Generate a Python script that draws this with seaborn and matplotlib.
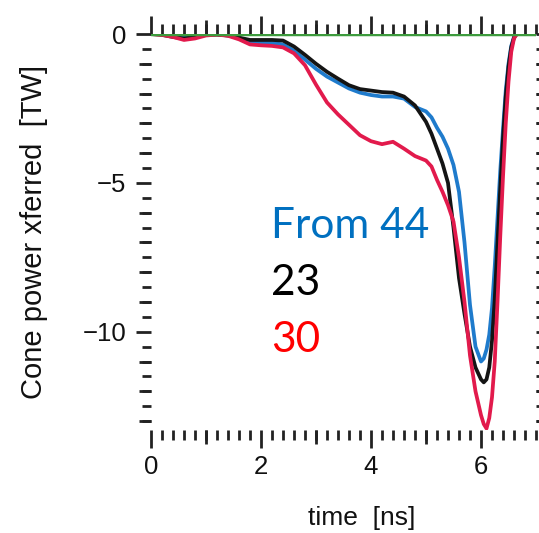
import numpy as np
import pandas as pd
import matplotlib
matplotlib.use("Agg")
import matplotlib.pyplot as plt
from matplotlib.ticker import MultipleLocator, FixedLocator, NullFormatter
import seaborn as sns

# Time samples (ns) shared by the three traces
time_ns = [0.0, 0.2, 0.4, 0.6, 0.8, 1.0, 1.2, 1.4, 1.6, 1.8,
           2.0, 2.2, 2.4, 2.6, 2.8, 3.0, 3.2, 3.4, 3.6, 3.8,
           4.0, 4.2, 4.4, 4.6, 4.8, 5.0, 5.1, 5.2, 5.3, 5.4,
           5.5, 5.6, 5.7, 5.8, 5.9, 6.0, 6.05, 6.1, 6.15, 6.2,
           6.25, 6.3, 6.35, 6.4, 6.45, 6.5, 6.55, 6.6, 6.65, 7.0]

# Cone power transferred (TW)
power_from44 = [0.0, 0.0, -0.05, -0.06, -0.03, 0.0, -0.01, -0.05, -0.13, -0.25,
                -0.28, -0.3, -0.35, -0.56, -0.86, -1.17, -1.43, -1.63, -1.83, -1.97,
                -2.05, -2.1, -2.1, -2.17, -2.45, -2.6, -2.8, -3.15, -3.45, -3.85,
                -4.4, -5.3, -7.0, -9.1, -10.5, -11.0, -10.9, -10.6, -10.1, -9.2,
                -7.8, -6.2, -4.6, -3.2, -1.9, -1.0, -0.4, -0.1, 0.0, 0.0]

power_23 = [0.0, -0.03, -0.1, -0.15, -0.1, -0.03, -0.02, -0.05, -0.12, -0.2,
            -0.2, -0.2, -0.22, -0.42, -0.7, -1.0, -1.27, -1.5, -1.72, -1.85,
            -1.9, -1.95, -1.97, -2.1, -2.4, -2.95, -3.35, -3.85, -4.35, -5.0,
            -6.5, -8.2, -9.4, -10.5, -11.2, -11.6, -11.7, -11.6, -11.2, -10.3,
            -8.9, -7.0, -5.2, -3.5, -2.1, -1.1, -0.45, -0.12, 0.0, 0.0]

power_30 = [0.0, -0.03, -0.1, -0.2, -0.15, -0.05, -0.02, -0.06, -0.18, -0.35,
            -0.38, -0.4, -0.45, -0.65, -1.05, -1.7, -2.3, -2.7, -3.05, -3.4,
            -3.6, -3.7, -3.62, -3.85, -4.1, -4.25, -4.45, -4.9, -5.3, -5.75,
            -6.3, -7.5, -9.0, -10.8, -12.0, -12.8, -13.1, -13.25, -12.9, -12.2,
            -11.0, -9.0, -6.8, -4.8, -3.0, -1.6, -0.6, -0.15, 0.0, 0.0]

series_names = ["From 44", "23", "30"]
line_colors = {"From 44": "#1f7bcc", "23": "#141414", "30": "#e21a4c"}
label_colors = {"From 44": "#0070C0", "23": "#000000", "30": "#FF0000"}
zero_level = 0.0

x_ticks = [0, 2, 4, 6]
y_ticks = [0, -5, -10]

df = pd.concat([
    pd.DataFrame({"time": time_ns, "power": vals, "run": name})
    for name, vals in zip(series_names, [power_from44, power_23, power_30])
])

sns.set_theme(style="white")
plt.rcParams["font.family"] = ["Liberation Sans", "DejaVu Sans"]

fig = plt.figure(figsize=(5.39, 5.33), dpi=100)
ax = fig.add_axes([151 / 539, 1 - 430 / 533, 385 / 539, 396 / 533])

sns.lineplot(data=df, x="time", y="power", hue="run", palette=line_colors,
             hue_order=series_names, estimator=None, sort=False,
             legend=False, ax=ax)
for ln in ax.lines:
    ln.set_linewidth(2.7)
    ln.set_solid_joinstyle("round")
ax.axhline(zero_level, color="#3d9b3d", linewidth=2.5, zorder=5)

ax.set_xlim(0, 7)
ax.set_ylim(-13.3, 0)

for s in ax.spines.values():
    s.set_visible(False)

tick_col = "#222222"
tw = 2.0
ax.xaxis.set_major_locator(FixedLocator(x_ticks))
ax.xaxis.set_minor_locator(MultipleLocator(0.2))
ax.yaxis.set_major_locator(FixedLocator(y_ticks))
ax.yaxis.set_minor_locator(MultipleLocator(0.5))
ax.set_yticklabels(["0", "\u22125", "\u221210"])
ax.tick_params(axis="x", which="major", direction="out", length=13, width=tw,
               top=True, bottom=True, color=tick_col, labelsize=18.5, pad=5,
               labelcolor="#111111")
ax.tick_params(axis="x", which="minor", direction="out", length=7, width=tw,
               top=True, bottom=True, color=tick_col)
ax.tick_params(axis="y", which="major", direction="out", length=11, width=tw,
               left=True, right=True, color=tick_col, labelsize=18.5, pad=7,
               labelcolor="#111111")
ax.tick_params(axis="y", which="minor", direction="out", length=6.5, width=tw,
               left=True, right=True, color=tick_col)

# intermediate-length ticks at odd ns and at whole TW
for loc in ["top", "bottom"]:
    sec = ax.secondary_xaxis(loc)
    sec.set_xticks([1, 3, 5])
    sec.xaxis.set_major_formatter(NullFormatter())
    sec.tick_params(direction="out", length=10, width=tw, color=tick_col)
    for s in sec.spines.values():
        s.set_visible(False)
for loc in ["left", "right"]:
    sec = ax.secondary_yaxis(loc)
    sec.set_yticks([v for v in range(-13, 0) if v % 5 != 0])
    sec.yaxis.set_major_formatter(NullFormatter())
    sec.tick_params(direction="out", length=8.5, width=tw, color=tick_col)
    for s in sec.spines.values():
        s.set_visible(False)

ax.set_xlabel("time  [ns]", fontsize=19, color="#111111")
ax.set_ylabel("Cone power xferred  [TW]", fontsize=21, color="#111111")
ax.xaxis.set_label_coords((362 - 151) / 385, (430 - 506) / 396)
ax.yaxis.set_label_coords((48 - 151) / 385, (430 - 232) / 396)

label_y = [-6.85, -8.76, -10.67]
for name, yv in zip(series_names, label_y):
    ax.text(2.18, yv, name, color=label_colors[name], fontsize=30.5,
            family=["Lato", "DejaVu Sans"], ha="left", va="baseline", zorder=6)

fig.savefig("out.png", dpi=100)
